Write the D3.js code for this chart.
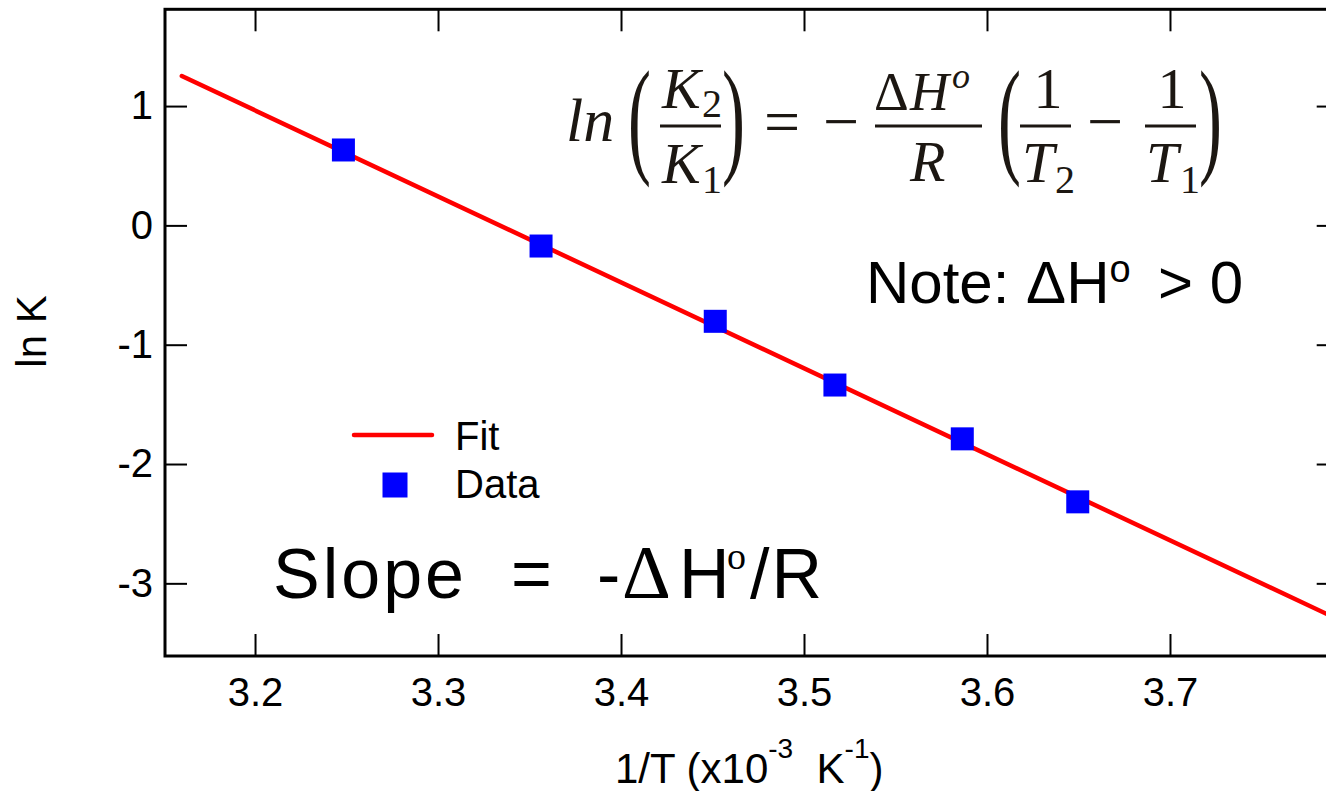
<!DOCTYPE html>
<html>
<head>
<meta charset="utf-8">
<script src="https://cdn.jsdelivr.net/npm/d3@7"></script>
<style>
  html, body { margin: 0; padding: 0; background: #fff; overflow: hidden; }
  svg { display: block; }
</style>
</head>
<body>
<div id="chart"></div>
<script>
// data
const invT = [3.2483, 3.3563, 3.4515, 3.5169, 3.5865, 3.6496];   // 1/T (x10^-3 K^-1)
const lnK  = [0.632, -0.173, -0.804, -1.338, -1.789, -2.317];
const fitX = [3.16, 3.79];
const fitY = [1.252, -3.288];
const xTicks = [3.2, 3.3, 3.4, 3.5, 3.6, 3.7];
const yTicks = [-3, -2, -1, 0, 1];
const legendItems = ["Fit", "Data"];

let width = 1326, height = 791;
let frame = {left: 165, top: 9.3, right: 1338.7, bottom: 656};
let sans = "'Liberation Sans', Arial, Helvetica, sans-serif";
let serif = "'Liberation Serif', 'Times New Roman', serif";

var svg = d3.select("#chart")
    .append("svg")
    .attr("width", width)
    .attr("height", height);

var x = d3.scaleLinear().domain([3.1508, 3.7922]).range([frame.left, frame.right]);
var y = d3.scaleLinear().domain([-3.609, 1.811]).range([frame.bottom, frame.top]);

// axes, ticks inward, mirrored on top / right
function styleAxis(g) {
    g.select(".domain").remove();
    g.selectAll(".tick line").attr("stroke", "#000").attr("stroke-width", 2);
    g.selectAll(".tick text")
        .attr("fill", "#000")
        .style("font-family", sans)
        .style("font-size", "40px");
}

svg.append("g")
    .attr("transform", "translate(0," + frame.bottom + ")")
    .call(d3.axisBottom(x).tickValues(xTicks).tickSize(-22).tickPadding(22).tickFormat(d => d.toFixed(1)))
    .call(styleAxis);

svg.append("g")
    .attr("transform", "translate(0," + frame.top + ")")
    .call(d3.axisTop(x).tickValues(xTicks).tickSize(-22).tickFormat(""))
    .call(styleAxis);

svg.append("g")
    .attr("transform", "translate(" + frame.left + ",0)")
    .call(d3.axisLeft(y).tickValues(yTicks).tickSize(-22).tickPadding(12).tickFormat(d => String(d)))
    .call(styleAxis);

svg.append("g")
    .attr("transform", "translate(" + frame.right + ",0)")
    .call(d3.axisRight(y).tickValues(yTicks).tickSize(-22).tickFormat(""))
    .call(styleAxis);

svg.append("rect")
    .attr("x", frame.left)
    .attr("y", frame.top)
    .attr("width", frame.right - frame.left)
    .attr("height", frame.bottom - frame.top)
    .attr("fill", "none")
    .attr("stroke", "#000")
    .attr("stroke-width", 3);

// axis titles
svg.append("text")
    .attr("transform", "translate(46,331.5)rotate(-90)")
    .attr("text-anchor", "middle")
    .style("font-family", sans)
    .style("font-size", "42px")
    .text("ln K");

var xt = svg.append("text")
    .attr("x", 615)
    .attr("y", 783)
    .style("font-family", sans)
    .style("font-size", "42px");
xt.append("tspan").text("1/T (x10");
xt.append("tspan").attr("dy", -25).style("font-size", "28px").text("-3");
xt.append("tspan").attr("dy", 25).attr("xml:space", "preserve").text("  K");
xt.append("tspan").attr("dy", -25).style("font-size", "28px").text("-1");
xt.append("tspan").attr("dy", 25).text(")");

// fit line
var fit = fitX.map((d, i) => [d, fitY[i]]);
svg.append("path")
    .datum(fit)
    .attr("d", d3.line().x(d => x(d[0])).y(d => y(d[1])))
    .attr("fill", "none")
    .attr("stroke", "#ff0000")
    .attr("stroke-width", 4.5)
    .attr("stroke-linecap", "round");

// data squares
let sq = 23;
svg.selectAll("rect.pt")
    .data(invT.map((d, i) => [d, lnK[i]]))
    .enter()
    .append("rect")
    .attr("class", "pt")
    .attr("x", d => x(d[0]) - sq / 2)
    .attr("y", d => y(d[1]) - sq / 2)
    .attr("width", sq)
    .attr("height", sq)
    .attr("fill", "#0000ff");

// legend
var leg = svg.append("g").attr("transform", "translate(354,435)");
leg.append("line")
    .attr("x1", 0).attr("x2", 78)
    .attr("y1", 0).attr("y2", 0)
    .attr("stroke", "#ff0000")
    .attr("stroke-width", 4.5)
    .attr("stroke-linecap", "round");
leg.append("rect")
    .attr("x", 41 - 12.5).attr("y", 50 - 12.5)
    .attr("width", 25).attr("height", 25)
    .attr("fill", "#0000ff");
leg.selectAll("text")
    .data(legendItems)
    .enter()
    .append("text")
    .attr("x", 101)
    .attr("y", (d, i) => 15 + i * 48)
    .style("font-family", sans)
    .style("font-size", "40px")
    .text(d => d);

// "Note" annotation
var note = svg.append("text")
    .attr("x", 866)
    .attr("y", 303)
    .style("font-family", sans)
    .style("font-size", "60px");
note.append("tspan").attr("xml:space", "preserve").text("Note: \u0394H");
note.append("tspan").attr("dy", -21).style("font-size", "38px").text("o");
note.append("tspan").attr("x", 1158).attr("dy", 21).attr("xml:space", "preserve").text("> 0");

// slope annotation
var slope = svg.append("text")
    .attr("y", 598)
    .style("font-family", sans)
    .style("font-size", "70px");
slope.append("tspan").attr("x", 273).style("letter-spacing", "3px").text("Slope");
slope.append("tspan").attr("x", 511).text("=");
slope.append("tspan").attr("x", 597).text("-");
slope.append("tspan").attr("x", 622).style("font-family", serif).style("font-size", "76px").text("\u0394");
slope.append("tspan").attr("x", 679).text("H");
slope.append("tspan").attr("x", 727).attr("dy", -29).style("font-family", serif).style("font-size", "38px").text("o");
slope.append("tspan").attr("x", 750).attr("dy", 29).style("letter-spacing", "2px").text("/R");

// equation ln(K2/K1) = -dH/R (1/T2 - 1/T1)
var eq = svg.append("g")
    .style("font-family", serif)
    .attr("fill", "#1c1712");

function put(txt, px, py, size, italic, anchor) {
    return eq.append("text")
        .attr("x", px).attr("y", py)
        .attr("text-anchor", anchor || "start")
        .style("font-size", size + "px")
        .style("font-style", italic ? "italic" : "normal")
        .text(txt);
}
function bar(x1, x2) {
    eq.append("line")
        .attr("x1", x1).attr("x2", x2)
        .attr("y1", 126).attr("y2", 126)
        .attr("stroke", "#1c1712")
        .attr("stroke-width", 3);
}
function paren(txt, px) {
    eq.append("text")
        .attr("transform", "translate(" + px + ",160)scale(1.15,2.17)")
        .style("font-size", "60px")
        .text(txt);
}

put("ln", 566, 141, 62, true);
paren("(", 628);
put("K", 662, 108, 58, true);
put("2", 702, 117, 40, false);
bar(660, 721);
put("K", 662, 183, 58, true);
put("1", 702, 193, 40, false);
paren(")", 722);
put("=", 764, 143, 64, false);
put("\u2212", 823, 143, 64, false);
put("\u0394", 874, 110, 54, false);
put("H", 910, 110, 54, true);
put("o", 952, 88, 36, true);
bar(875, 982);
put("R", 910, 181, 58, true);
paren("(", 998);
put("1", 1048, 108, 58, false, "middle");
bar(1020, 1071);
put("T", 1022, 182, 58, true);
put("2", 1055, 193, 40, false);
put("\u2212", 1087, 143, 64, false);
put("1", 1172, 108, 58, false, "middle");
bar(1145, 1196);
put("T", 1146, 182, 58, true);
put("1", 1180, 193, 40, false);
paren(")", 1199);
</script>
</body>
</html>
